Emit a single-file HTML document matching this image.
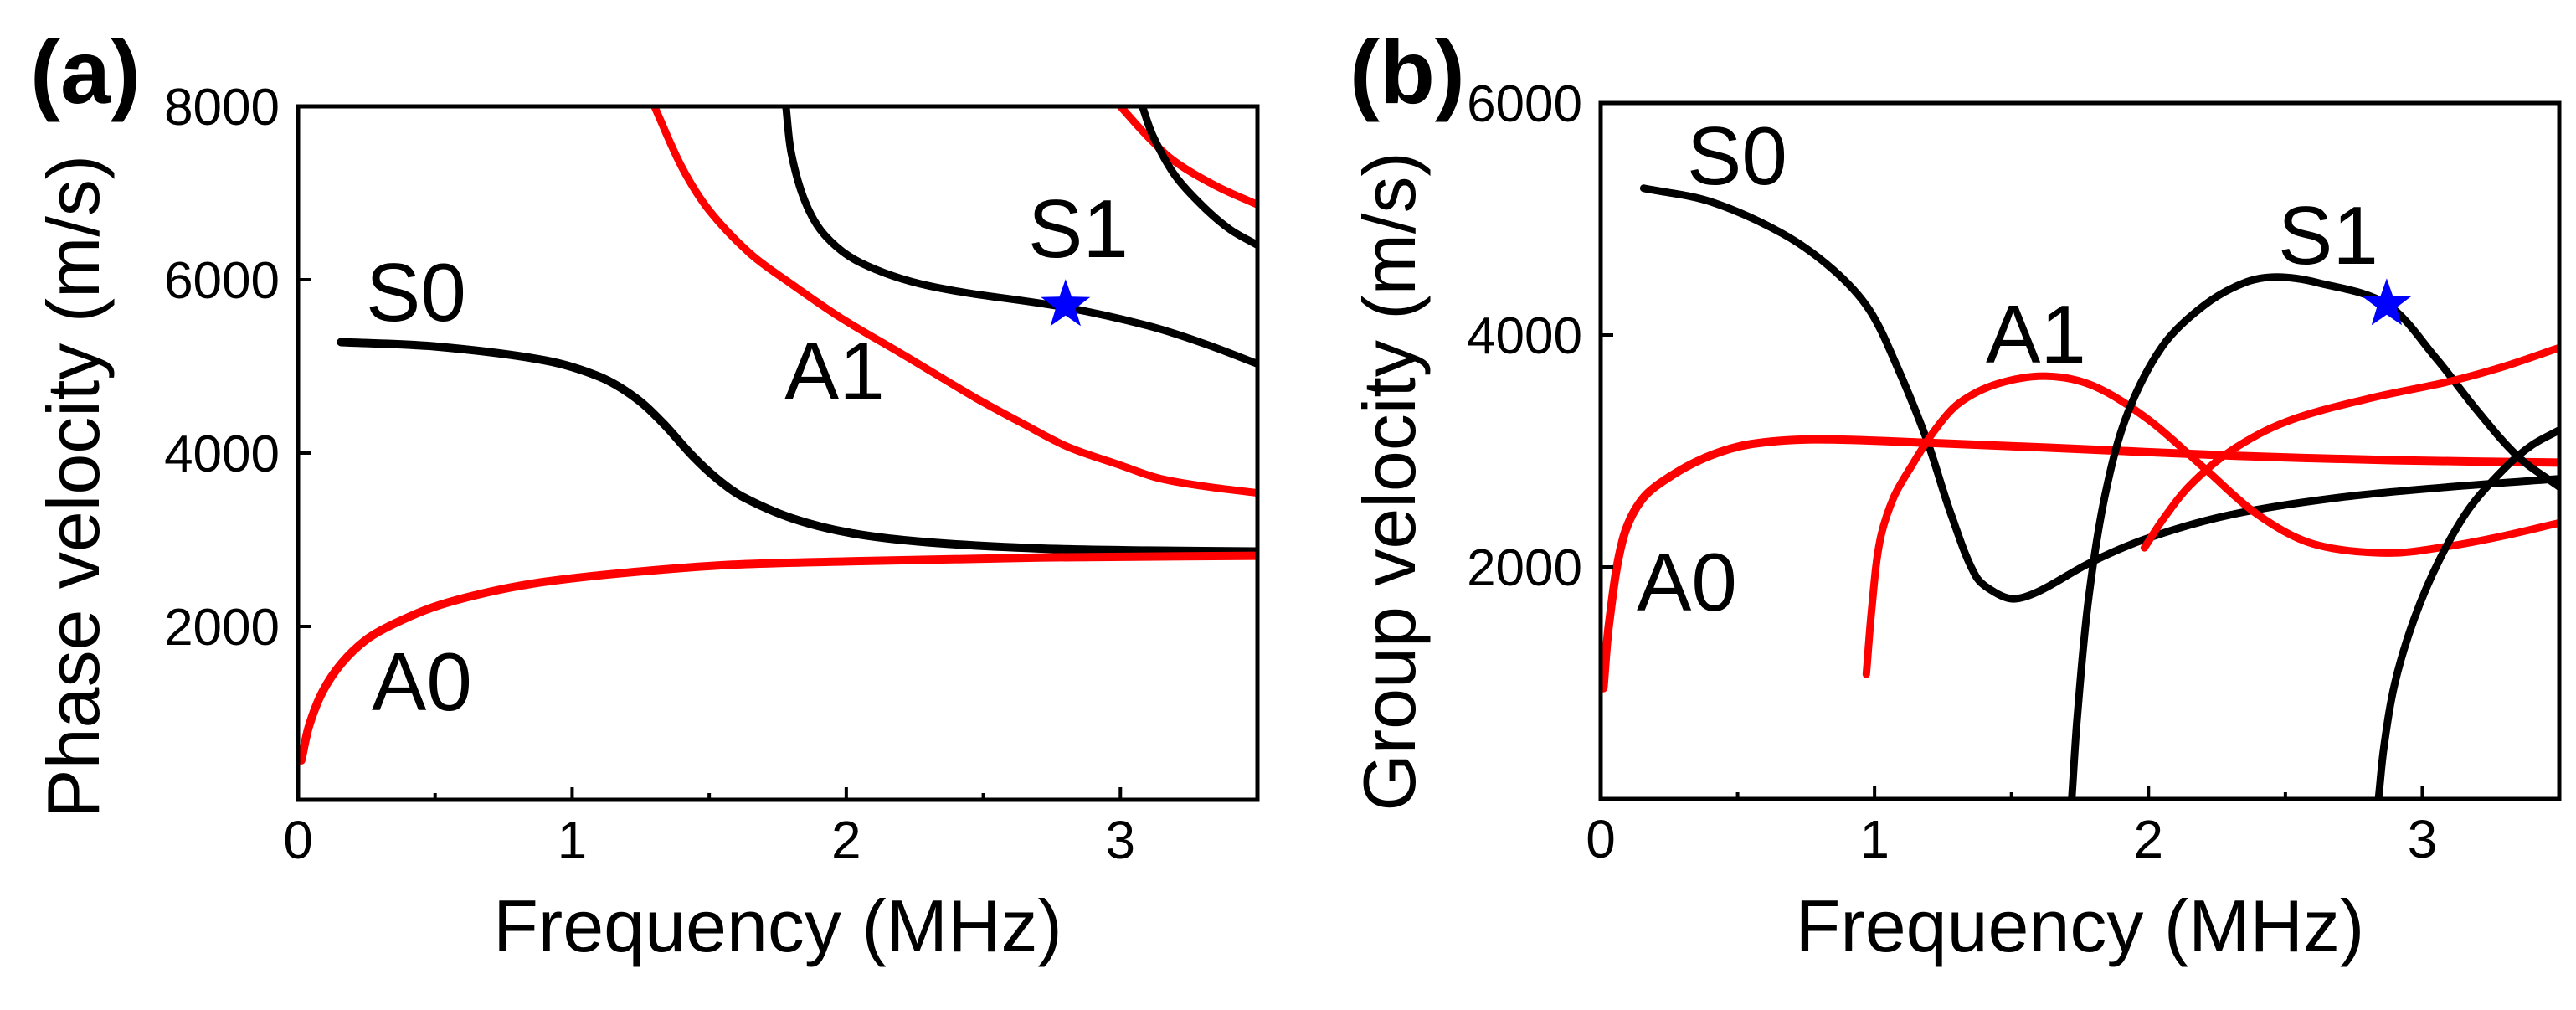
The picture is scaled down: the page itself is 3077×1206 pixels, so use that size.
<!DOCTYPE html>
<html><head><meta charset="utf-8"><style>
html,body{margin:0;padding:0;background:#fff;}
svg{display:block;font-family:"Liberation Sans",Arial,sans-serif;}
</style></head><body>
<svg id="fig" width="3077" height="1206" viewBox="0 0 3077 1206" xmlns="http://www.w3.org/2000/svg">
<rect width="3077" height="1206" fill="#fff"/>
</svg>
<script>
// ---- Panel (a) phase velocity data ----
const aS0f=[0.157,0.5,0.9,1.1,1.23,1.33,1.44,1.53,1.62,1.8,2.02,2.3,2.7,3.1,3.5];
const aS0v=[5280,5230,5070,4880,4640,4350,3965,3700,3500,3250,3075,2970,2900,2875,2865];
const aA0f=[0.012,0.04,0.09,0.16,0.25,0.35,0.5,0.7,0.9,1.2,1.57,2.0,2.7,3.5];
const aA0v=[455,850,1250,1580,1850,2030,2230,2400,2515,2620,2710,2750,2795,2815];
const aA1f=[1.3,1.4,1.5,1.65,1.8,1.98,2.2,2.47,2.65,2.81,3.0,3.14,3.3,3.5];
const aA1v=[8000,7300,6800,6300,5950,5560,5150,4640,4330,4070,3860,3710,3620,3540];
const aS1f=[1.78,1.8,1.85,1.92,2.05,2.3,2.8,3.1,3.3,3.5];
const aS1v=[8000,7450,6900,6520,6200,5930,5680,5470,5270,5030];
const aA2f=[3.0,3.1,3.2,3.35,3.5];
const aA2v=[8000,7650,7360,7080,6866];
const aS2f=[3.08,3.12,3.2,3.3,3.4,3.5];
const aS2v=[8000,7650,7200,6850,6580,6400];
const aStar=[2.8,5707];
// ---- Panel (b) group velocity data ----
const bS0f=[0.157,0.4,0.667,0.85,0.98,1.08,1.19,1.28,1.37,1.44,1.51,1.6,1.79,2.0,2.3,2.7,3.1,3.5];
const bS0v=[5265,5150,4870,4560,4220,3740,3100,2450,1920,1780,1725,1790,2040,2250,2450,2600,2690,2760];
const bA0f=[0.01,0.03,0.08,0.15,0.26,0.4,0.55,0.78,1.2,1.72,2.3,2.9,3.5];
const bA0v=[955,1500,2230,2580,2790,2960,3060,3100,3070,3020,2960,2920,2900];
const bA1f=[0.97,0.99,1.02,1.07,1.135,1.22,1.31,1.45,1.63,1.8,2.0,2.2,2.4,2.6,2.87,3.1,3.3,3.5];
const bA1v=[1075,1650,2230,2600,2870,3180,3415,3580,3645,3560,3270,2860,2450,2200,2120,2180,2270,2380];
const bS1f=[1.72,1.74,1.78,1.84,1.92,2.05,2.2,2.35,2.47,2.62,2.87,3.05,3.2,3.35,3.5];
const bS1v=[0,700,1700,2600,3300,3900,4250,4450,4500,4450,4265,3800,3350,2950,2690];
const bA2f=[1.985,2.05,2.15,2.3,2.5,2.8,3.1,3.3,3.5];
const bA2v=[2165,2400,2700,3000,3250,3450,3600,3730,3890];
const bS2f=[2.84,2.86,2.9,2.97,3.06,3.17,3.3,3.4,3.5];
const bS2v=[0,450,1000,1550,2050,2500,2850,3050,3180];
const bStar=[2.87,4265];
// ---- Tick labels ----
const xTicks=[0,1,2,3];
const xMinor=[0.5,1.5,2.5];
const aYTicks=[2000,4000,6000,8000];
const bYTicks=[2000,4000,6000];

const svg=document.getElementById('fig');
const NS='http://www.w3.org/2000/svg';
function mk(tag,attrs,parent){const e=document.createElementNS(NS,tag);for(const k in attrs)e.setAttribute(k,attrs[k]);(parent||svg).appendChild(e);return e;}
function smooth(pts){
  const n=pts.length;
  const d=[];for(let i=0;i<n-1;i++)d.push(Math.hypot(pts[i+1][0]-pts[i][0],pts[i+1][1]-pts[i][1])||1e-6);
  const T=[];
  for(let i=0;i<n;i++){
    if(i===0)T.push([(pts[1][0]-pts[0][0])/d[0],(pts[1][1]-pts[0][1])/d[0]]);
    else if(i===n-1)T.push([(pts[n-1][0]-pts[n-2][0])/d[n-2],(pts[n-1][1]-pts[n-2][1])/d[n-2]]);
    else{const s=d[i-1]+d[i];T.push([(pts[i+1][0]-pts[i-1][0])/s,(pts[i+1][1]-pts[i-1][1])/s]);}
  }
  let p='M'+pts[0][0].toFixed(1)+','+pts[0][1].toFixed(1);
  for(let i=0;i<n-1;i++){
    const L=d[i]/3;
    const c1=[pts[i][0]+T[i][0]*L,pts[i][1]+T[i][1]*L];
    const c2=[pts[i+1][0]-T[i+1][0]*L,pts[i+1][1]-T[i+1][1]*L];
    p+='C'+c1[0].toFixed(1)+','+c1[1].toFixed(1)+' '+c2[0].toFixed(1)+','+c2[1].toFixed(1)+' '+pts[i+1][0].toFixed(1)+','+pts[i+1][1].toFixed(1);
  }
  return p;
}
function starPath(cx,cy,R){
  const r=R*0.4;let d='';
  for(let i=0;i<10;i++){const a=-Math.PI/2+i*Math.PI/5;const rr=i%2?r:R;d+=(i?'L':'M')+(cx+rr*Math.cos(a)).toFixed(1)+','+(cy+rr*Math.sin(a)).toFixed(1);}
  return d+'Z';
}
function panel(cfg){
  const g=mk('g',{});
  
  
  const X=f=>cfg.x0+(f/3.5)*(cfg.x1-cfg.x0);
  const Y=v=>cfg.y1-(v/cfg.vmax)*(cfg.y1-cfg.y0);
  const cp=mk('clipPath',{id:cfg.id+'clip'},g);
  mk('rect',{x:cfg.x0,y:cfg.y0,width:cfg.x1-cfg.x0,height:cfg.y1-cfg.y0},cp);
  const curves=mk('g',{'clip-path':'url(#'+cfg.id+'clip)'},g);
  cfg.series.forEach(s=>{
    const pts=s.f.map((f,i)=>[X(f),Y(s.v[i])]);
    const p=mk('path',{d:smooth(pts),fill:'none',stroke:s.c,'stroke-width':s.w||9,'stroke-linecap':'round','stroke-linejoin':'round'},curves);
    
    
  });
  const fr=mk('rect',{x:cfg.x0,y:cfg.y0,width:cfg.x1-cfg.x0,height:cfg.y1-cfg.y0,fill:'none',stroke:'#000','stroke-width':5},g);
  
  
  xTicks.forEach(t=>{
    mk('line',{x1:X(t),x2:X(t),y1:cfg.y1,y2:cfg.y1-15,stroke:'#000','stroke-width':4},g);
    const tx=mk('text',{x:X(t),y:cfg.y1+70,'font-size':64,'text-anchor':'middle'},g);
    tx.textContent=t;
    
    
  });
  xMinor.forEach(t=>{mk('line',{x1:X(t),x2:X(t),y1:cfg.y1,y2:cfg.y1-8,stroke:'#000','stroke-width':4},g);});
  cfg.yt.forEach(t=>{
    mk('line',{x1:cfg.x0,x2:cfg.x0+15,y1:Y(t),y2:Y(t),stroke:'#000','stroke-width':4},g);
    const tx=mk('text',{x:cfg.x0-22,y:Y(t)+22,'font-size':62,'text-anchor':'end'},g);
    tx.textContent=t;
    
    
  });
  const xt=mk('text',{x:(cfg.x0+cfg.x1)/2,y:1136,'font-size':88,'text-anchor':'middle'},g);
  xt.textContent='Frequency (MHz)';
  
  
  const yt=mk('text',{x:0,y:0,'font-size':88,'text-anchor':'middle',transform:'translate('+cfg.ytx+','+cfg.ytc+') rotate(-90)'},g);
  yt.textContent=cfg.ytitle;
  
  
  const pl=mk('text',{x:cfg.plx,y:123,'font-size':108,'font-weight':'bold'},g);
  pl.textContent=cfg.plabel;
  
  
  cfg.labels.forEach(l=>{
    const t=mk('text',{x:l[1],y:l[2],'font-size':98},g);
    t.textContent=l[0];
    
    
  });
  const st=mk('path',{d:starPath(X(cfg.star[0]),Y(cfg.star[1]),31),fill:'#0000ff'},g);
  
  
}
panel({id:'a',name:'panel-a-phase-velocity',x0:356,x1:1502,y0:127,y1:955,vmax:8000,yt:aYTicks,
  ytitle:'Phase velocity (m/s)',ytx:118,ytc:581,plabel:'(a)',plx:36,star:aStar,
  series:[{n:'curve-s0',f:aS0f,v:aS0v,c:'#000',w:10},{n:'curve-a0',f:aA0f,v:aA0v,c:'#ff0000',w:10},
    {n:'curve-a1',f:aA1f,v:aA1v,c:'#ff0000'},{n:'curve-s1',f:aS1f,v:aS1v,c:'#000'},
    {n:'curve-a2',f:aA2f,v:aA2v,c:'#ff0000'},{n:'curve-s2',f:aS2f,v:aS2v,c:'#000'}],
  labels:[['S0',437,383],['A1',937,477],['S1',1228,307],['A0',444,848]]});
panel({id:'b',name:'panel-b-group-velocity',x0:1912,x1:3057,y0:123,y1:954,vmax:6000,yt:bYTicks,
  ytitle:'Group velocity (m/s)',ytx:1690,ytc:575,plabel:'(b)',plx:1612,star:bStar,
  series:[{n:'curve-s0',f:bS0f,v:bS0v,c:'#000'},{n:'curve-a0',f:bA0f,v:bA0v,c:'#ff0000',w:10},
    {n:'curve-a1',f:bA1f,v:bA1v,c:'#ff0000'},{n:'curve-s1',f:bS1f,v:bS1v,c:'#000'},
    {n:'curve-a2',f:bA2f,v:bA2v,c:'#ff0000'},{n:'curve-s2',f:bS2f,v:bS2v,c:'#000'}],
  labels:[['S0',2015,220],['A1',2372,433],['S1',2721,315],['A0',1955,729]]});
</script>
</body></html>
